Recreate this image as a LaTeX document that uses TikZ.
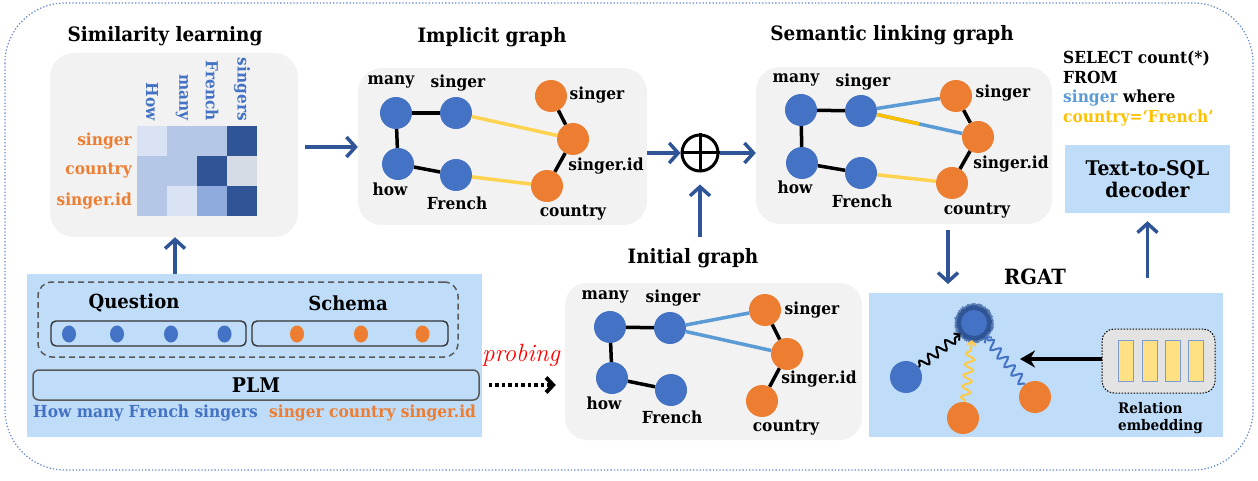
\documentclass[tikz,border=0pt]{standalone}
\usepackage{fontspec}
\setmainfont{DejaVu Serif}[FakeStretch=0.93]
\newfontfamily\probfont{Latin Modern Roman}
\usetikzlibrary{arrows.meta,decorations.pathmorphing,shapes.geometric,calc}
\definecolor{nblue}{HTML}{4472C4}
\definecolor{norange}{HTML}{ED7D31}
\definecolor{dblue}{HTML}{2F5597}
\definecolor{lblue}{HTML}{5B9BD5}
\definecolor{yel}{HTML}{FFD34F}
\definecolor{gold}{HTML}{FFC000}
\definecolor{boxgray}{HTML}{F2F2F2}
\definecolor{skyfill}{HTML}{BFDCF8}
\definecolor{hma}{HTML}{DAE3F3}
\definecolor{hmb}{HTML}{B4C7E7}
\definecolor{hmc}{HTML}{8FAADC}
\definecolor{hmd}{HTML}{2F5597}
\definecolor{hmg}{HTML}{D6DCE5}
\definecolor{relgray}{HTML}{E3E3E3}
\definecolor{embyel}{HTML}{FFE083}
\definecolor{linegray}{HTML}{595959}
\newcommand\setfs[1]{\fontsize{#1}{#1}\selectfont}
\tikzset{
  gbox/.style={fill=boxgray, rounded corners=24pt, inner sep=0pt},
  ttl/.style={font=\setfs{19.8}\bfseries, inner sep=0pt},
  lbl/.style={font=\setfs{16.6}\bfseries, inner sep=0pt},
  bnode/.style={circle, fill=nblue, minimum size=32pt, inner sep=0pt},
  onode/.style={circle, fill=norange, minimum size=32pt, inner sep=0pt},
  kedge/.style={line width=3.5pt, draw=black},
  yedge/.style={line width=3.5pt, draw=yel},
  bedge/.style={line width=3.5pt, draw=lblue},
  darr/.style={draw=dblue, line width=3.5pt, -{Straight Barb[length=9pt,width=20pt]}},
  wavy/.style={decorate, decoration={snake, amplitude=4.5pt, segment length=11pt, pre length=1pt, post length=5pt}, line width=2pt, -{Straight Barb[length=4pt,width=9pt]}},
  skybox/.style={fill=skyfill, inner sep=0pt},
  dotnode/.style={ellipse, minimum width=14pt, minimum height=17pt, inner sep=0pt},
}
\begin{document}
\begin{tikzpicture}[x=1pt,y=-1pt]
\useasboundingbox (0,0) rectangle (1258,481);
% outer border
\draw[nblue!85, line width=1.2pt, dash pattern=on 1.3pt off 2pt, rounded corners=60pt] (5,3) rectangle (1253,470);

% ---------------- Similarity learning
\node[gbox, minimum width=248pt, minimum height=184pt] (simbox) at (174,145) {};
\node[ttl] (simtitle) at (165,36) {Similarity learning};
\fill[hma] (137,126) rectangle (167,156);
\fill[hmb] (167,126) rectangle (197,156);
\fill[hmb] (197,126) rectangle (227,156);
\fill[hmd] (227,126) rectangle (257,156);
\fill[hmb] (137,156) rectangle (167,186);
\fill[hmb] (167,156) rectangle (197,186);
\fill[hmd] (197,156) rectangle (227,186);
\fill[hmg] (227,156) rectangle (257,186);
\fill[hmb] (137,186) rectangle (167,216);
\fill[hma] (167,186) rectangle (197,216);
\fill[hmc] (197,186) rectangle (227,216);
\fill[hmd] (227,186) rectangle (257,216);
\node[lbl, text=nblue, font=\setfs{16.5}\bfseries, rotate=-90, anchor=east] (cH) at (152,121) {How};
\node[lbl, text=nblue, font=\setfs{16.5}\bfseries, rotate=-90, anchor=east] (cm) at (182,121) {many};
\node[lbl, text=nblue, font=\setfs{16.5}\bfseries, rotate=-90, anchor=east] (cF) at (212,121) {French};
\node[lbl, text=nblue, font=\setfs{16.5}\bfseries, rotate=-90, anchor=east] (cs) at (242,121) {singers};
\node[lbl, text=norange, anchor=east] (rs) at (132,141) {singer};
\node[lbl, text=norange, anchor=east] (rc) at (132,171) {country};
\node[lbl, text=norange, anchor=east] (ri) at (132,201) {singer.id};

% ---------------- Implicit graph
\node[gbox, minimum width=289pt, minimum height=157pt] (impbox) at (502.5,146.5) {};
\node[ttl] (imptitle) at (492,37) {Implicit graph};
\node[bnode] (im) at (396,113) {};
\node[bnode] (is) at (456,113) {};
\node[bnode] (ih) at (398,164) {};
\node[bnode] (iF) at (456,175) {};
\node[onode] (ios) at (551,96) {};
\node[onode] (iid) at (573,139) {};
\node[onode] (ic) at (547,186) {};
\draw[kedge] (im) -- (is);
\draw[kedge] (im) -- (ih);
\draw[kedge] (ih) -- (iF);
\draw[yedge] (is) -- (iid);
\draw[yedge] (iF) -- (ic);
\draw[kedge] (ios) -- (iid);
\draw[kedge] (iid) -- (ic);
\node[lbl] (iml) at (391,82) {many};
\node[lbl] (isl) at (458,83) {singer};
\node[lbl] (ihl) at (390,189) {how};
\node[lbl] (iFl) at (457,203) {French};
\node[lbl] (iosl) at (597,95) {singer};
\node[lbl] (iidl) at (606,166) {singer.id};
\node[lbl] (icl) at (573,213) {country};

% ---------------- oplus
\node[circle, draw=black, line width=3pt, minimum size=36pt, inner sep=0pt] (op) at (700,153) {};
\draw[line width=3pt] (op.north) -- (op.south);
\draw[line width=3pt] (op.west) -- (op.east);

% ---------------- Semantic linking graph
\node[gbox, minimum width=296pt, minimum height=157pt] (sembox) at (904,145.5) {};
\node[ttl] (semtitle) at (892,35) {Semantic linking graph};
\node[bnode] (sm) at (801,110) {};
\node[bnode] (ss) at (861,111) {};
\node[bnode] (sh) at (802,163) {};
\node[bnode] (sF) at (861,173) {};
\node[onode] (sos) at (956,96) {};
\node[onode] (sid) at (978,137) {};
\node[onode] (sc) at (952,183) {};
\draw[kedge] (sm) -- (ss);
\draw[kedge] (sm) -- (sh);
\draw[kedge] (sh) -- (sF);
\draw[bedge] (ss) -- (sos);
\draw[bedge] (ss) -- (sid);
\draw[line width=3.5pt, draw=gold] (ss) -- ($(ss)!0.5!(sid)$);
\draw[yedge] (sF) -- (sc);
\draw[kedge] (sos) -- (sid);
\draw[kedge] (sid) -- (sc);
\node[lbl] (sml) at (796,80) {many};
\node[lbl] (ssl) at (863,82) {singer};
\node[lbl] (shl) at (795,187) {how};
\node[lbl] (sFl) at (862,201) {French};
\node[lbl] (sosl) at (1003,93) {singer};
\node[lbl] (sidl) at (1011,164) {singer.id};
\node[lbl] (scl) at (977,211) {country};

% ---------------- SQL + decoder
\node[font=\setfs{16.6}\bfseries, inner sep=0pt, anchor=base west] (q1) at (1063,64) {SELECT count(*)};
\node[font=\setfs{16.6}\bfseries, inner sep=0pt, anchor=base west] (q2) at (1063,83.5) {FROM};
\node[font=\setfs{16.6}\bfseries, inner sep=0pt, anchor=base west] (q3) at (1063,103) {\textcolor{lblue}{singer} where};
\node[font=\setfs{16.6}\bfseries, inner sep=0pt, anchor=base west, text=gold] (q4) at (1063,122.7) {country=‘French’};
\node[skybox, minimum width=165pt, minimum height=68pt, align=center, font=\fontsize{20.2}{22}\selectfont\bfseries] (dec) at (1147.5,179) {Text-to-SQL\\decoder};

% ---------------- Initial graph
\node[gbox, rounded corners=22pt, minimum width=297pt, minimum height=157pt] (initbox) at (713.5,361.5) {};
\node[ttl] (inittitle) at (693,258) {Initial graph};
\node[bnode] (nm) at (610,327) {};
\node[bnode] (ns) at (670,328) {};
\node[bnode] (nh) at (612,378) {};
\node[bnode] (nF) at (671,390) {};
\node[onode] (nos) at (765,310) {};
\node[onode] (nid) at (787,354) {};
\node[onode] (nc) at (762,401) {};
\draw[kedge] (nm) -- (ns);
\draw[kedge] (nm) -- (nh);
\draw[kedge] (nh) -- (nF);
\draw[bedge] (ns) -- (nos);
\draw[bedge] (ns) -- (nid);
\draw[kedge] (nos) -- (nid);
\draw[kedge] (nid) -- (nc);
\node[lbl] (nml) at (605,297) {many};
\node[lbl] (nsl) at (673,298) {singer};
\node[lbl] (nhl) at (604,403) {how};
\node[lbl] (nFl) at (672,417) {French};
\node[lbl] (nosl) at (812,310) {singer};
\node[lbl] (nidl) at (819,379) {singer.id};
\node[lbl] (ncl) at (786,428) {country};

% ---------------- PLM block
\node[skybox, minimum width=455pt, minimum height=163pt] (plmbox) at (254.5,355.5) {};
\node[draw=linegray, line width=1.5pt, dash pattern=on 6pt off 4pt, rounded corners=14pt, minimum width=420pt, minimum height=75pt, inner sep=0pt] (inbox) at (248,319.5) {};
\node[ttl, font=\setfs{19.4}\bfseries] (qt) at (134,303) {Question};
\node[ttl, font=\setfs{19.4}\bfseries] (st) at (348,303) {Schema};
\node[draw=black!80, line width=1.4pt, rounded corners=5pt, minimum width=195pt, minimum height=25pt, inner sep=0pt] (qbox) at (148.5,333.5) {};
\node[draw=black!80, line width=1.4pt, rounded corners=5pt, minimum width=196pt, minimum height=25pt, inner sep=0pt] (sbox) at (350,333.5) {};
\node[dotnode, fill=nblue] (qd1) at (69,334) {};
\node[dotnode, fill=nblue] (qd2) at (117,334) {};
\node[dotnode, fill=nblue] (qd3) at (171,334) {};
\node[dotnode, fill=nblue] (qd4) at (224.5,334) {};
\node[dotnode, fill=norange] (sd1) at (297,334) {};
\node[dotnode, fill=norange] (sd2) at (361,334) {};
\node[dotnode, fill=norange] (sd3) at (422.5,334) {};
\node[draw=linegray, line width=1.5pt, rounded corners=6pt, fill=skyfill, minimum width=446pt, minimum height=30pt, inner sep=0pt, font=\setfs{20.2}\bfseries] (plm) at (256,385) {PLM};
\node[lbl, text=nblue, anchor=west] (qtext) at (33,413) {How many French singers};
\node[lbl, text=norange, anchor=west] (stext) at (269,413) {singer country singer.id};

% probing
\node[text=red, font=\probfont\itshape\setfs{25}, inner sep=0pt] (prob) at (521,355) {probing};
\draw[line width=4pt, dash pattern=on 3.5pt off 3pt, shorten <=9pt, shorten >=9pt, -{Straight Barb[length=7pt,width=15pt]}] (plm.east) -- (plm.east -| initbox.west);

% ---------------- RGAT
\node[skybox, minimum width=354pt, minimum height=144pt] (rgatbox) at (1046,365) {};
\node[ttl, font=\setfs{21}\bfseries] (rgattitle) at (1035,277) {RGAT};
\fill[dblue!70!skyfill, decorate, decoration={random steps, segment length=0.8pt, amplitude=0.9pt}] (974,323) circle[radius=19.5pt];
\fill[dblue, decorate, decoration={random steps, segment length=0.8pt, amplitude=0.8pt}] (974,323) circle[radius=17.5pt];
\fill[nblue] (974,323) circle[radius=13pt];
\node[circle, minimum size=34pt, inner sep=0pt] (rcen) at (974,323) {};
\node[bnode] (rl) at (906,377) {};
\node[onode] (rb) at (963,418) {};
\node[onode] (rr) at (1035,397) {};
\draw[wavy, black] (rl) -- (rcen);
\draw[wavy, yel!90!orange] (rb) -- (rcen);
\draw[wavy, nblue] (rr) -- (rcen);
\node[draw=black, line width=1pt, dash pattern=on 1.5pt off 1.5pt, fill=relgray, rounded corners=12pt, minimum width=113pt, minimum height=64pt, inner sep=0pt] (relbox) at (1158.5,361) {};
\node[draw=nblue!70, line width=1pt, fill=embyel, minimum width=15pt, minimum height=41pt, inner sep=0pt] (e1) at (1125.5,360.5) {};
\node[draw=nblue!70, line width=1pt, fill=embyel, minimum width=15pt, minimum height=41pt, inner sep=0pt] (e2) at (1149.5,360.5) {};
\node[draw=nblue!70, line width=1pt, fill=embyel, minimum width=15pt, minimum height=41pt, inner sep=0pt] (e3) at (1172.5,360.5) {};
\node[draw=nblue!70, line width=1pt, fill=embyel, minimum width=15pt, minimum height=41pt, inner sep=0pt] (e4) at (1195.5,360.5) {};
\node[font=\fontsize{14.6}{17}\selectfont\bfseries, align=left, inner sep=0pt, anchor=north west] (reltext) at (1118,402) {Relation\\embedding};
\coordinate (relend) at (1020,359);
\draw[line width=4pt, -{Stealth[length=15pt,width=17pt]}] (relbox.west |- relend) -- (relend);

% ---------------- main arrows
\coordinate (u1) at (175,274);
\draw[darr] (u1) -- (u1 |- simbox.south);
\draw[darr, shorten <=7pt] (simbox.east |- 0,147) -- (impbox.west |- 0,147);
\draw[darr] (impbox.east |- op.west) -- (op.west);
\draw[darr] (op.east) -- (op.east -| sembox.west);
\draw[darr, shorten <=11pt, shorten >=12pt] (inittitle.north -| op.south) -- (op.south);
\coordinate (d2) at (948,284);
\draw[darr, shorten <=6pt] (sembox.south -| d2) -- (d2);
\coordinate (u2) at (1147.5,278);
\draw[darr, shorten >=8pt] (u2) -- (dec.south);
\end{tikzpicture}
\end{document}
